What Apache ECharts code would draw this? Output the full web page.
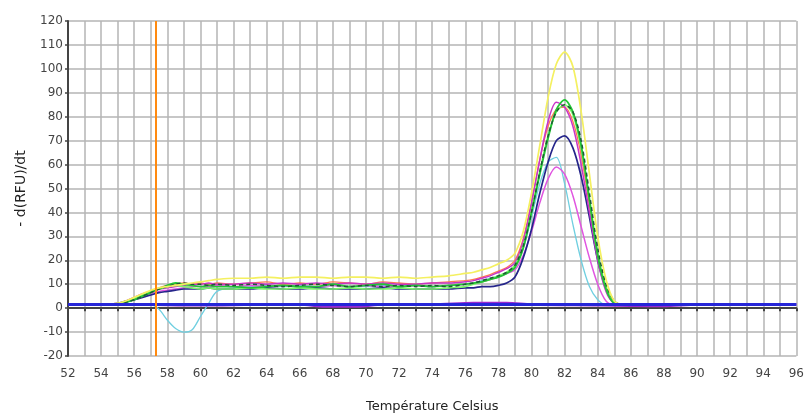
<!DOCTYPE html>
<html>
<head>
<meta charset="utf-8">
<script src="https://cdn.jsdelivr.net/npm/echarts@6/dist/echarts.min.js"></script>
<style>
html,body{margin:0;padding:0;background:#fff;}
#chart{width:807px;height:418px;}
</style>
</head>
<body>
<div id="chart"></div>
<script>
// Shared temperature axis for the melt-peak curves
const temps = [52,53,54,55,55.5,56,56.5,57,57.5,58,58.5,59,59.5,60,60.5,61,
  62,63,64,65,66,67,68,69,70,71,72,73,74,75,76,
  76.5,77,77.5,78,78.5,79,79.5,80,80.5,81,81.5,82,82.5,83,83.5,84,84.5,85,85.5,86];

const yellow = [1.5,1.5,1.5,2,3,4.5,6,7.5,8.5,9,9.5,
  10,10.5,11,11.5,12,
  12.5,12.5,13,12.5,13,13,12.5,13,13,12.5,13,12.5,13,13.5,14.5,
  15,16,17,18.5,20,23,32,48,68,88,102,107,101,82,56,30,12,3,1.5,1.5];
const green = [1.5,1.5,1.5,1.8,2.5,3.5,5,6.5,8,9.5,10.5,
  10,9.5,9,9.5,9,
  9,8.5,9,9.5,9,9,10,9,9.5,10,9,9.5,9,9.5,10,
  10.5,11,12,13,14.5,17,25,40,56,71,83,87,82,68,45,22,8,2,1.5,1.5];
const lightGreen = [1.5,1.5,1.5,2,3,4,5.5,7,8,9,9.5,
  9,8.5,8,8.5,8,
  8,8.5,8,8,8.5,8,8,8.5,8,8,8.5,8,8,8.5,9,
  10,11,12,13.5,15,18,26,40,57,72,82,85,81,67,46,23,9,2.5,1.5,1.5];
const darkGreen = [1.5,1.5,1.5,1.8,2.5,3.5,5,6.5,8,9,10,
  10.5,10,10,9.5,10,
  9.5,10,9.5,9,9.5,10,9.5,9,9.5,9,9.5,9,9.5,9,10,
  10.5,11.5,12.5,13.5,15,18,26,40,57,72,82,85,82,70,48,25,10,3,1.5,1.5];
const magenta = [1.5,1.5,1.5,2,3,4.5,6,7,8,8.5,9,
  9.5,10,10,10.5,10,
  10,10.5,10,10.5,10,10.5,10,10.5,10,10.5,10,10,10.5,10.5,11,
  11.5,12.5,13.5,15,16.5,19,28,44,62,78,86,84,76,60,40,20,7,2,1.5,1.5];
const navy = [1.5,1.5,1.5,1.8,2.5,3.5,4.5,5.5,6.5,7,7.5,
  8,8,8,8.5,8,
  8,8,8.5,8,8,8.5,8,8,8,8.5,8,8,8,8,8.5,
  8.5,9,9,9.5,10.5,13,21,33,48,61,70,72,67,55,38,20,8,2,1.5,1.5];
const pink = [1.5,1.5,1.5,2,3,4,5,6,7,7.5,8,
  8.5,9,9,9,9.5,
  9,9.5,9,9.5,9,9,9.5,9,9.5,9,9,9.5,9,9.5,10,
  10.5,11,12,13,14.5,16,22,32,44,54,59,56,47,34,21,10,3,1.5,1.5,1.5];
const cyan = [1.5,1.5,1.5,1.5,1.5,1.5,1.5,1.5,-0.5,-5,-8.5,
  -10,-9,-3.5,2,7,
  8.5,9,9.5,9,9.5,9,9.5,9,9,9.5,9,9.5,9,9.5,10,
  10.5,11.5,12.5,13.5,15,17,25,38,52,61,63,52,35,20,9,3.5,1.5,1.5,1.5,1.5];
const orange = [1.5,1.5,1.5,2,3,4,5.5,7,8.5,9.5,10,
  10.5,10,10.5,10,10.5,
  10,10.5,11,10,10.5,10,11,10.5,10,11,10.5,10,10.5,11,11.5,
  12,13,14,15.5,17,20,29,44,62,76,83,84,78,64,43,22,8,2,1.5,1.5];

// Baseline (negative control) traces
const baseTemps = [52,56,60,64,66,67.5,69.5,71,74,76.5,78.5,80,84,86,88,90,94,96];
const blueBase = [1.5,1.5,1.5,1.5,1.5,1.5,1.5,1.5,1.5,1.5,1.5,1.5,1.5,1.5,1.5,1.5,1.5,1.5];
const purpleBase = [1.5,1.5,1.2,1.5,1.5,0.7,0.7,1.5,1.5,2.1,2.1,1.5,1.2,1.0,0.9,1.5,1.5,1.5];

const markerTemp = 57.3;
const xTicks = {min:52, max:96, step:1};
const yTicks = {min:-20, max:120, step:10};

function pairs(xs, ys){ return xs.map((x,i)=>[x, ys[i]]); }

const curves = [
  {name:'orange', data:orange, color:'#ff7a50', width:1.3},
  {name:'cyan', data:cyan, color:'#6fcfe0', width:1.3},
  {name:'pink', data:pink, color:'#e055e0', width:1.5},
  {name:'navy', data:navy, color:'#25258a', width:1.7},
  {name:'magenta', data:magenta, color:'#c834c8', width:1.5},
  {name:'lightGreen', data:lightGreen, color:'#7cf56a', width:1.7},
  {name:'green', data:green, color:'#22c535', width:1.8},
  {name:'darkGreen', data:darkGreen, color:'#1c5a34', width:1.5, dash:[4,3]},
  {name:'yellow', data:yellow, color:'#f4f060', width:1.7}
];

const series = curves.map(c => ({
  type:'line', name:c.name, data:pairs(temps, c.data), smooth:0.3,
  showSymbol:false, animation:false,
  lineStyle:{color:c.color, width:c.width, type:c.dash || 'solid'}
}));

series.push({
  type:'line', name:'purple', data:pairs(baseTemps, purpleBase), smooth:0.3,
  showSymbol:false, animation:false, z:3,
  lineStyle:{color:'#9a28d0', width:2.5}
});
series.push({
  type:'line', name:'blue', data:pairs(baseTemps, blueBase),
  showSymbol:false, animation:false, z:4,
  lineStyle:{color:'#2626d8', width:3},
  markLine:{
    silent:true, symbol:['none','none'], animation:false,
    label:{show:false},
    lineStyle:{color:'#ff8a10', width:2, type:'solid'},
    data:[{xAxis:markerTemp}]
  }
});

const chart = echarts.init(document.getElementById('chart'), null, {renderer:'canvas'});
chart.setOption({
  animation:false,
  backgroundColor:'#ffffff',
  grid:{left:68, right:8, top:21, bottom:61},
  xAxis:{
    type:'value', min:xTicks.min, max:xTicks.max, interval:xTicks.step,
    name:'Température Celsius', nameLocation:'middle', nameGap:44,
    nameTextStyle:{fontFamily:'DejaVu Sans', fontSize:13, color:'#222'},
    axisLine:{lineStyle:{color:'#444', width:2}},
    axisTick:{show:true, length:3, lineStyle:{color:'#444', width:2}},
    axisLabel:{fontFamily:'DejaVu Sans', fontSize:12, color:'#444', margin:12,
      formatter:v => (v % 2 === 0 ? String(v) : '')},
    splitLine:{show:true, lineStyle:{color:'#b4b4b4', width:1.5}}
  },
  yAxis:{
    type:'value', min:yTicks.min, max:yTicks.max, interval:yTicks.step,
    name:'- d(RFU)/dt', nameLocation:'middle', nameGap:40, nameRotate:90,
    nameTextStyle:{fontFamily:'DejaVu Sans', fontSize:14, color:'#222'},
    axisLine:{show:true, lineStyle:{color:'#444', width:2}},
    axisTick:{show:true, length:3, lineStyle:{color:'#444', width:1.5}},
    axisLabel:{fontFamily:'DejaVu Sans', fontSize:12, color:'#444', margin:5},
    splitLine:{show:true, lineStyle:{color:'#b4b4b4', width:1.5}}
  },
  series:series
});
</script>
</body>
</html>
